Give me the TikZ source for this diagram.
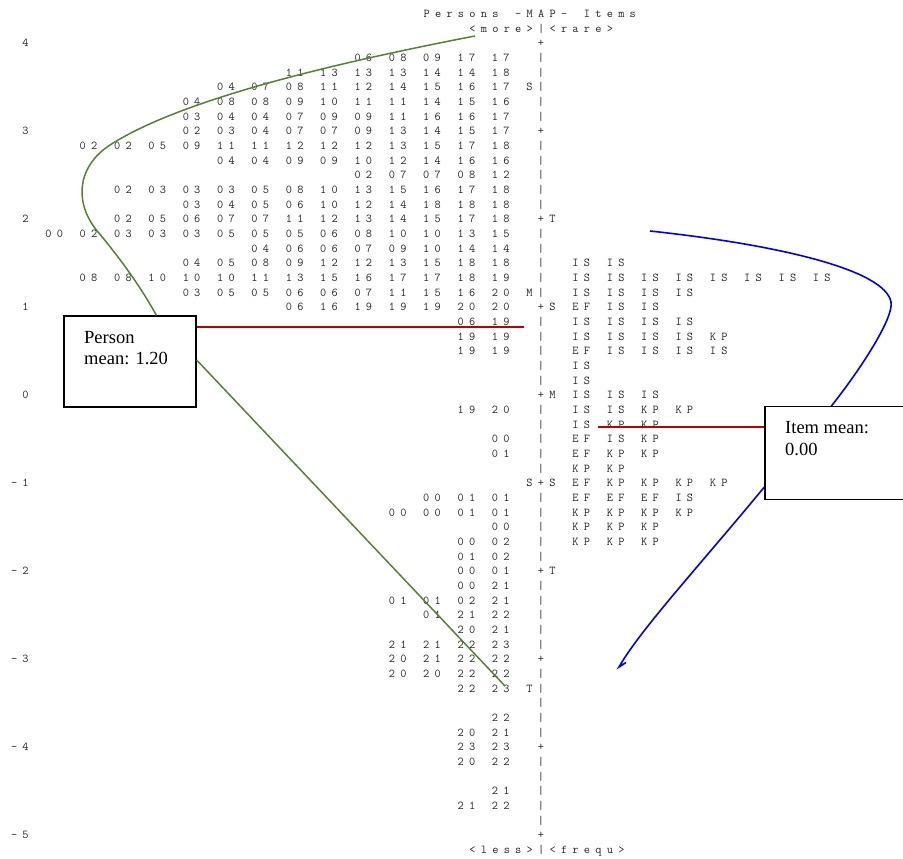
\documentclass[tikz,border=0pt]{standalone}
\usepackage{fontspec}
\newfontfamily\notefont{Liberation Serif}
\definecolor{meanred}{RGB}{192,0,0}
\definecolor{persgreen}{RGB}{84,130,53}
\definecolor{itemblue}{RGB}{0,0,240}
\newcommand\mapcell[1]{\makebox[\mpitch pt]{#1}}
\def\mapstr#1{\expandafter\mapstri#1\relax}
\def\mapstri#1{\ifx\relax#1\else\ifx.#1\mapcell{}\else\mapcell{#1}\fi\expandafter\mapstri\fi}
\begin{document}
\begin{tikzpicture}[x=1pt,y=-1pt,
  mapt/.style={font=\ttfamily\fontsize{12}{12}\selectfont,text=black!85,inner sep=0pt,text height=7.4pt,text depth=0pt},
  notebox/.style={draw=black,line width=1.3pt,fill=white,inner sep=0pt},
  notet/.style={font=\notefont\fontsize{18.5}{21}\selectfont,inner sep=0pt,anchor=base west},
  meanline/.style={draw=meanred,line width=2.4pt},
  greenline/.style={draw=persgreen,line width=1.5pt},
  blueline/.style={draw=itemblue,line width=1.6pt}]
\useasboundingbox (0,0) rectangle (903,859);
\clip (0,0) rectangle (903,859);
\pgfmathsetmacro{\mx}{541}
\pgfmathsetmacro{\mpitch}{11.45}
\pgfmathsetmacro{\mrow}{14.67}
\pgfmathsetmacro{\mtop}{43}
\node[mapt,anchor=west] (title) at ({\mx-10.5*\mpitch},{\mtop-2*\mrow}) {\mapstr{Persons.-MAP-.Items}};
\node[mapt,anchor=west] (more) at ({\mx-6.5*\mpitch},{\mtop-\mrow}) {\mapstr{<more>|<rare>}};
\node[mapt,anchor=west] (less) at ({\mx-6.5*\mpitch},{\mtop+55*\mrow}) {\mapstr{<less>|<frequ>}};
\foreach \r in {0,...,54}{
  \pgfmathtruncatemacro{\k}{mod(\r,6)}
  \ifnum\k=0 \def\ch{+}\else\def\ch{|}\fi
  \node[mapt] (bar\r) at (\mx,{\mtop+\r*\mrow}) {\mapcell{\ch}};}
\foreach \r/\v in {0/4,6/3,12/2,18/1,24/0,30/-1,36/-2,42/-3,48/-4,54/-5}
  \node[mapt,anchor=east] (ax\r) at ({\mx-44.5*\mpitch},{\mtop+\r*\mrow}) {\mapstr{\v}};
\foreach \r/\c/\m [count=\n] in {3/-1/S,12/1/T,17/-1/M,18/1/S,24/1/M,30/-1/S,30/1/S,36/1/T,44/-1/T}
  \node[mapt] (mk\n) at ({\mx+\c*\mpitch},{\mtop+\r*\mrow}) {\mapcell{\m}};
\foreach \r/\s in {1/06.08.09.17.17,2/11.13.13.13.14.14.18,3/04.07.08.11.12.14.15.16.17,
  4/04.08.08.09.10.11.11.14.15.16,5/03.04.04.07.09.09.11.16.16.17,6/02.03.04.07.07.09.13.14.15.17,
  7/02.02.05.09.11.11.12.12.12.13.15.17.18,8/04.04.09.09.10.12.14.16.16,9/02.07.07.08.12,
  10/02.03.03.03.05.08.10.13.15.16.17.18,11/03.04.05.06.10.12.14.18.18.18,
  12/02.05.06.07.07.11.12.13.14.15.17.18,13/00.02.03.03.03.05.05.05.06.08.10.10.13.15,
  14/04.06.06.07.09.10.14.14,15/04.05.08.09.12.12.13.15.18.18,
  16/08.08.10.10.10.11.13.15.16.17.17.18.19,17/03.05.05.06.06.07.11.15.16.20,
  18/06.16.19.19.19.20.20,19/06.19,20/19.19,21/19.19,25/19.20,27/00,28/01,
  31/00.01.01,32/00.00.01.01,33/00,34/00.02,35/01.02,36/00.01,37/00.21,38/01.01.02.21,
  39/01.21.22,40/20.21,41/21.21.22.23,42/20.21.22.22,43/20.20.22.22,44/22.23,
  46/22,47/20.21,48/23.23,49/20.22,51/21,52/21.22}
  \node[mapt,anchor=east] (pr\r) at ({\mx-2.5*\mpitch},{\mtop+\r*\mrow}) {\mapstr{\s}};
\foreach \r/\s in {15/IS.IS,16/IS.IS.IS.IS.IS.IS.IS.IS,17/IS.IS.IS.IS,18/EF.IS.IS,
  19/IS.IS.IS.IS,20/IS.IS.IS.IS.KP,21/EF.IS.IS.IS.IS,22/IS,23/IS,24/IS.IS.IS,
  25/IS.IS.KP.KP,26/IS.KP.KP,27/EF.IS.KP,28/EF.KP.KP,29/KP.KP,30/EF.KP.KP.KP.KP,
  31/EF.EF.EF.IS,32/KP.KP.KP.KP,33/KP.KP.KP,34/KP.KP.KP}
  \node[mapt,anchor=west] (it\r) at ({\mx+2.5*\mpitch},{\mtop+\r*\mrow}) {\mapstr{\s}};
\node[notebox,minimum width=132pt,minimum height=91pt] (pbox) at (130,361.5) {};
\node[notebox,minimum width=150pt,minimum height=92.6pt] (ibox) at (840,453) {};
\coordinate (gtop) at (475,36);
\coordinate (gturn) at (110,145);
\coordinate (gleft) at (98,232);
\coordinate (gend) at (505,686);
\coordinate (pend) at (524,327);
\coordinate (iend) at (598,427);
\coordinate (btop) at (650,231);
\coordinate (bturn) at (891,302);
\coordinate (bend) at (619,667);
\draw[meanline] (pbox.east |- pend) -- (pend);
\draw[meanline] (iend) -- (iend -| ibox.west);
\draw[greenline] (gtop) .. controls (330,64) and (180,100) .. (gturn)
  .. controls (75,168) and (75,205) .. (gleft)
  .. controls (115,252) and (140,285) .. ([xshift=93pt]pbox.north west);
\draw[greenline] ([yshift=1.5pt]pbox.east) -- (gend);
\draw[blueline] (btop) .. controls (780,245) and (885,270) .. (bturn)
  .. controls (894,318) and (860,370) .. ([xshift=67pt]ibox.north west);
\draw[blueline] ([yshift=-34pt]ibox.west) .. controls (700,565) and (640,630) .. (bend) -- (626,662.5);
\node[notet] (pt1) at (84,343.3) {Person};
\node[notet] (pt2) at (84,364) {mean: 1.20};
\node[notet] (it1) at (785,433.3) {Item mean:};
\node[notet] (it2) at (785,455) {0.00};
\end{tikzpicture}
\end{document}
